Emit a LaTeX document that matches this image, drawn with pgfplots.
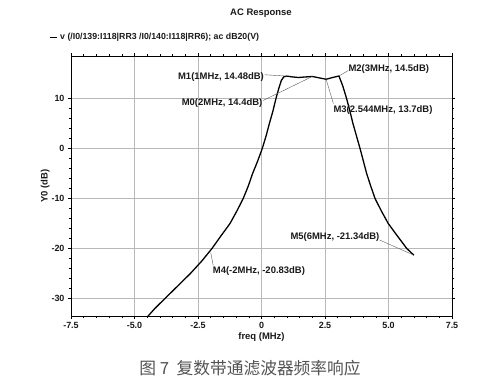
\documentclass[border=0pt]{standalone}
\usepackage{fontspec}
\setmainfont{Liberation Sans}
\newfontfamily\cjk{Noto Sans CJK SC}
\usepackage{pgfplots}
\pgfplotsset{compat=1.18}
\definecolor{gridc}{gray}{0.72}
\definecolor{txt}{gray}{0.1}
\begin{document}
\begin{tikzpicture}[x=1bp,y=1bp]
\useasboundingbox (-71,-70) rectangle (413,316);
\begin{axis}[
  at={(0,0)}, anchor=south west,
  scale only axis, width=381bp, height=260bp,
  xmin=-7.5, xmax=7.5, ymin=-33.5, ymax=18.5,
  xtick={-7.5,-5,-2.5,0,2.5,5,7.5},
  xticklabels={-7.5,-5.0,-2.5,0,2.5,5.0,7.5},
  ytick={-30,-20,-10,0,10},
  yticklabels={-30,-20,-10,0,10},
  minor x tick num=4, minor y tick num=4,
  tick align=outside,
  major tick length=3bp, minor tick length=2bp,
  grid=major,
  major grid style={gridc, line width=0.5pt},
  axis line style={black, line width=0.8pt},
  tick style={black, line width=0.5pt},
  ticklabel style={font=\bfseries\fontsize{9}{10}\selectfont, text=txt},
  xlabel={freq (MHz)}, ylabel={Y0 (dB)},
  label style={font=\bfseries\fontsize{9.5}{11}\selectfont, text=txt},
  xlabel style={yshift=3bp},
  ylabel style={yshift=-5bp},
  clip=true,
]
\addplot[black, line width=1.3pt, line join=round] coordinates {
(-4.55,-34) (-4.2,-32) (-3.8,-30) (-3.3,-27.5) (-2.8,-25) (-2.35,-22.5) (-1.95,-20)
(-1.6,-17.5) (-1.24,-15) (-0.97,-12.5) (-0.72,-10) (-0.52,-7.5) (-0.35,-5) (-0.15,-2.5)
(0.03,0) (0.18,2.5) (0.31,5) (0.45,7.5) (0.57,10) (0.68,12) (0.78,13.6) (0.88,14.35)
(1.0,14.48) (1.2,14.33) (1.45,14.2) (1.7,14.3) (2.0,14.4) (2.3,14.1) (2.544,13.85)
(2.8,14.2) (3.05,14.5) (3.2,12.5) (3.35,10) (3.48,7.5) (3.6,5) (3.74,2.5) (3.88,0)
(4.01,-2.5) (4.14,-5) (4.3,-7.5) (4.47,-10) (4.72,-12.5) (4.99,-15) (5.35,-17.5)
(5.72,-20) (6.0,-21.34)
};
\begin{scope}[every node/.style={font=\bfseries\fontsize{9.5}{11}\selectfont, text=txt, inner sep=0pt}]
\draw[gray!70!black, line width=0.4pt] (axis cs:0.12,14.75) -- (axis cs:1.0,14.48);
\node[anchor=east] at (axis cs:0.1,14.3) {M1(1MHz, 14.48dB)};
\draw[gray!70!black, line width=0.4pt] (axis cs:0.06,9.6) -- (axis cs:2.0,14.4);
\node[anchor=east] at (axis cs:0.04,9.0) {M0(2MHz, 14.4dB)};
\draw[gray!70!black, line width=0.4pt] (axis cs:3.42,15.6) -- (axis cs:3.05,14.5);
\node[anchor=west] at (axis cs:3.42,15.9) {M2(3MHz, 14.5dB)};
\draw[gray!70!black, line width=0.4pt] (axis cs:2.544,13.85) -- (axis cs:2.83,9.0);
\node[anchor=west] at (axis cs:2.83,7.7) {M3(2.544MHz, 13.7dB)};
\draw[gray!70!black, line width=0.4pt] (axis cs:-2.0,-20.83) -- (axis cs:-1.9,-23.4);
\node[anchor=west] at (axis cs:-1.92,-24.5) {M4(-2MHz, -20.83dB)};
\draw[gray!70!black, line width=0.4pt] (axis cs:4.65,-18.3) -- (axis cs:6.0,-21.34);
\node[anchor=east] at (axis cs:4.65,-17.8) {M5(6MHz, -21.34dB)};
\end{scope}
\end{axis}
\node[font=\bfseries\fontsize{9.5}{11}\selectfont, text=txt] at (190,303) {AC Response};
\draw[black, line width=0.6pt] (-21,279) -- (-14,279);
\node[anchor=west, font=\bfseries\fontsize{8.8}{10}\selectfont, text=txt, inner sep=0pt] at (-11,279) {v (/I0/139:I118|RR3 /I0/140:I118|RR6); ac dB20(V)};
\node[font=\cjk\fontsize{16.8}{19}\selectfont, text=gray!65!black] at (179,-52) {图 7\ \ 复数带通滤波器频率响应};
\end{tikzpicture}
\end{document}
